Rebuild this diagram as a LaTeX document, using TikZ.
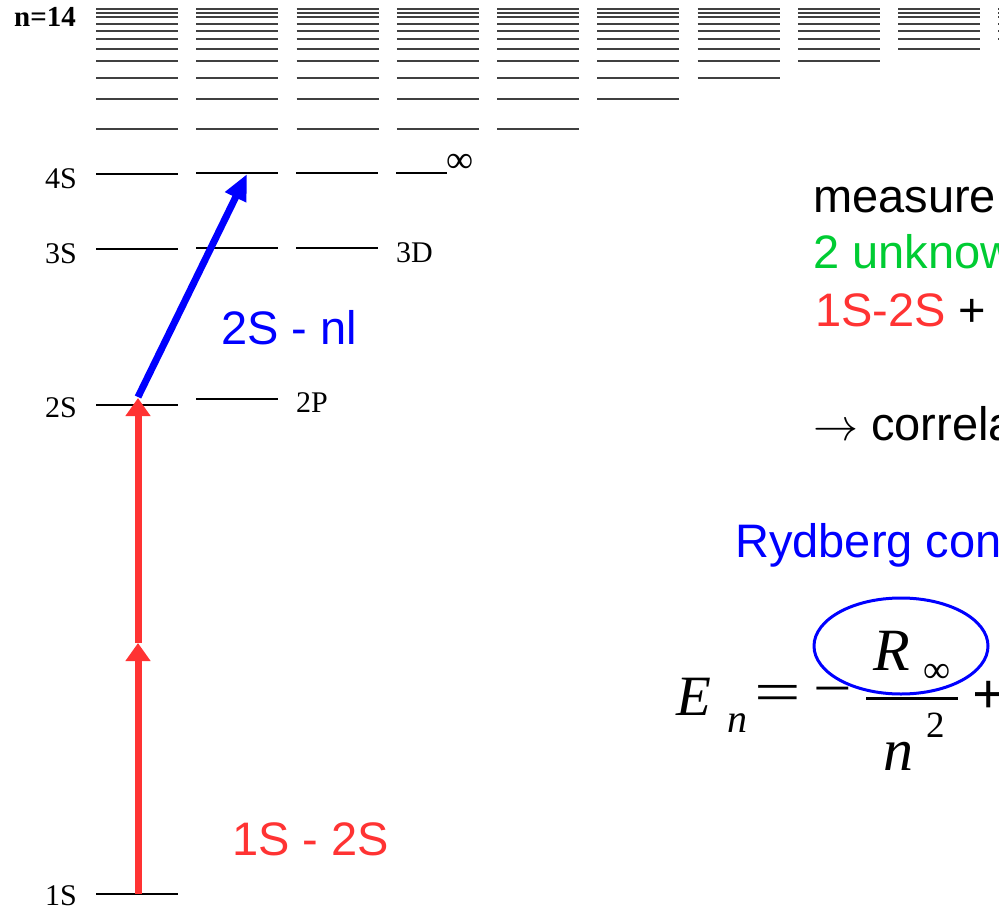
\documentclass[tikz,border=0pt]{standalone}
\usepackage{fontspec}
\setmainfont{Liberation Serif}
\newfontfamily\arial{Liberation Sans}
\usetikzlibrary{arrows.meta,shapes.geometric}
\definecolor{rred}{RGB}{255,51,51}
\definecolor{rgreen}{RGB}{0,204,51}
\definecolor{rblue}{RGB}{0,0,255}
\newcommand{\bigarrowsym}{{\fontsize{10}{12}\selectfont\scalebox{4.5}{$\rightarrow$}}}
\tikzset{
  lvltop/.style={line width=1.7pt, black!75},
  lvl/.style={line width=1.1pt, black},
  lbl/.style={font=\fontsize{30}{32}\selectfont, inner sep=0pt, text depth=0pt, anchor=base east},
  lblr/.style={font=\fontsize{30}{32}\selectfont, inner sep=0pt, anchor=base west},
  sanstxt/.style={font=\arial\fontsize{47}{50}\selectfont, inner sep=0pt, anchor=base west},
  redarr/.style={rred, line width=7pt, -{Triangle[length=18pt,width=24pt]}},
  bluearr/.style={rblue, line width=7pt, -{Triangle[length=26pt,width=22pt]}},
  fml/.style={inner sep=0pt, anchor=base west},
}
\begin{document}
\begin{tikzpicture}[x=1pt,y=-1pt]
\useasboundingbox (0,0) rectangle (999,910);
\clip (0,0) rectangle (999,910);
% upper levels (n >= 5): row with y and number of columns
\foreach \yy/\nc in {129/5,99/6,78/7,61/8,49/9,39/10,31/10,24/10,17/10,13/10,9/10}{
  \foreach \i in {1,...,\nc}{
    \draw[lvltop] ({96+100.25*(\i-1)},\yy) -- ({178+100.25*(\i-1)},\yy);
  }
}
% n = 4
\draw[lvl] (96,174) -- (178,174);
\draw[lvl] (196,173) -- (278,173);
\draw[lvl] (296,173) -- (378,173);
\draw[lvl] (396,173) -- (447,173);
% n = 3
\draw[lvl] (96,249) -- (178,249);
\draw[lvl] (196,248) -- (278,248);
\draw[lvl] (296,248) -- (378,248);
% n = 2
\draw[lvl] (96,405) -- (178,405);
\draw[lvl] (196,399) -- (278,399);
% n = 1
\draw[lvl] (96,894) -- (178,894);

% level labels
\node[lbl, font=\bfseries\fontsize{29}{30}\selectfont] (ln14) at (76,27) {n=14};
\node[lbl] (l4s) at (77,188) {4S};
\node[lbl] (l3s) at (77,263) {3S};
\node[lbl] (l2s) at (77,417) {2S};
\node[lbl] (l1s) at (77,905) {1S};
\node[lblr] (l3d) at (396,262) {3D};
\node[lblr] (l2p) at (296,412) {2P};
\node[inner sep=0pt, anchor=base west, font=\fontsize{38}{40}\selectfont] (linf) at (446,172) {∞};

% transitions
\coordinate (c1S) at (138,894);
\coordinate (cmid) at (138,643);
\coordinate (c2S) at (138,398);
\coordinate (c2Sb) at (138,397);
\coordinate (c4P) at (247,174);
\draw[redarr] (c1S) -- (cmid);
\draw[redarr] (cmid) -- (c2S);
\draw[bluearr] (c2Sb) -- (c4P);

\node[sanstxt, text=rblue] (t2snl) at (221,344) {2S - nl};
\node[sanstxt, text=rred] (t1s2s) at (232,855) {1S - 2S};

% right texts
\node[sanstxt] (tmeas) at (813,212) {measure};
\node[sanstxt, text=rgreen] (tunk) at (813,268) {2 unknow};
\node[sanstxt] (tsum) at (815,326) {\textcolor{rred}{1S-2S} +};
\node[sanstxt] (tcorr) at (813,440) {\bigarrowsym\ correla};
\node[sanstxt, text=rblue] (tryd) at (735,557) {Rydberg con};

% formula
\node[fml, font=\itshape\fontsize{57}{60}\selectfont] (fE) at (676,715) {E};
\node[fml, font=\itshape\fontsize{40}{42}\selectfont] (fn) at (727,732) {n};
\node[inner sep=0pt, font=\fontsize{57}{60}\selectfont] (feq) at (778,698) {\scalebox{1.45}[1]{=}};
\node[inner sep=0pt, font=\fontsize{57}{60}\selectfont] (fminus) at (833,697) {\scalebox{1.2}[1]{−}};
\draw[line width=3pt] (866,698) -- (958,698);
\node[fml, font=\itshape\fontsize{60}{62}\selectfont] (fR) at (873,670) {R};
\node[fml, font=\fontsize{38}{40}\selectfont] (finf) at (923,682) {∞};
\node[fml, font=\itshape\fontsize{60}{62}\selectfont] (fn2) at (883,770) {n};
\node[fml, font=\fontsize{37}{40}\selectfont] (ftwo) at (926,737) {2};
\node[inner sep=0pt, font=\bfseries\fontsize{57}{60}\selectfont] (fplus) at (989,697) {+};
\node[draw=rblue, line width=3pt, ellipse, minimum width=174pt, minimum height=96pt, inner sep=0pt] (fcirc) at (901,646) {};
\end{tikzpicture}
\end{document}
